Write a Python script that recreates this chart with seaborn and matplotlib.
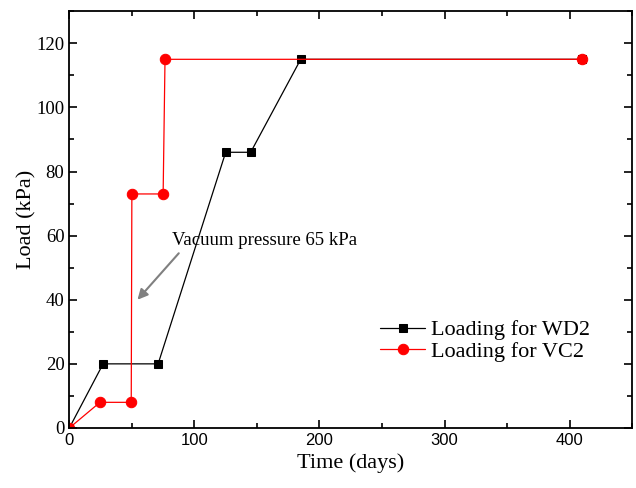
import numpy as np
import pandas as pd
import matplotlib
matplotlib.use('Agg')
import matplotlib.pyplot as plt
import seaborn as sb
from matplotlib.ticker import MultipleLocator
from matplotlib import font_manager

# Data
wd2_days = [0, 27, 71, 125, 145, 185, 410]
wd2_load = [0, 20, 20, 86, 86, 115, 115]
vc2_days = [0, 24.5, 49.5, 50, 75, 76.5, 410]
vc2_load = [0, 8, 8, 73, 73, 115, 115]
x_ticks = [0, 100, 200, 300, 400]
y_ticks = [0, 20, 40, 60, 80, 100, 120]

sb.set_style('ticks')
plt.rcParams['font.family'] = ['Liberation Serif', 'DejaVu Serif']
for k in ['text.color', 'axes.labelcolor', 'xtick.color', 'ytick.color', 'axes.edgecolor']:
    plt.rcParams[k] = 'black'

fig = plt.figure(figsize=(6.36, 4.88), dpi=100)
ax = fig.add_axes([0.109, 0.123, 0.885, 0.854])

sb.lineplot(x=wd2_days, y=wd2_load, ax=ax, sort=False, estimator=None,
            color='black', lw=0.9, marker='s', markersize=6.2,
            markeredgecolor='black', label='Loading for WD2')
sb.lineplot(x=vc2_days, y=vc2_load, ax=ax, sort=False, estimator=None,
            color='red', lw=0.9, marker='o', markersize=7.5,
            markeredgecolor='red', label='Loading for VC2')

ax.set_xlim(0, 450)
ax.set_ylim(0, 130)
ax.set_xticks(x_ticks)
ax.set_yticks(y_ticks)
ax.xaxis.set_minor_locator(MultipleLocator(50))
ax.yaxis.set_minor_locator(MultipleLocator(10))
ax.tick_params(which='both', direction='in', top=True, right=True, width=1.2)
ax.tick_params(which='major', length=6)
ax.tick_params(which='minor', length=3.5)
ax.tick_params(axis='y', labelsize=13.5)
ax.set_xticklabels([str(t) for t in x_ticks], fontsize=12,
                   family=['Liberation Sans', 'DejaVu Sans'])
for s in ax.spines.values():
    s.set_linewidth(1.3)

ax.set_xlabel('Time (days)', fontsize=16)
ax.set_ylabel('Load (kPa)', fontsize=16, labelpad=0)

ax.text(82, 58.5, 'Vacuum pressure 65 kPa', fontsize=13.5, va='center', ha='left')
ax.annotate('', xy=(54.5, 40), xytext=(87.5, 54.5),
            arrowprops=dict(arrowstyle='-|>', color='gray', lw=1.5,
                            mutation_scale=15, shrinkA=0, shrinkB=0))

ax.legend(loc='center left', bbox_to_anchor=(0.5525, 0.2086), frameon=False,
          fontsize=16, handlelength=2.0, borderpad=0, borderaxespad=0,
          labelspacing=0.05, handletextpad=0.3)

fig.savefig('out.png', dpi=100)

# quick check that the x tick labels really use the sans font
lab = ax.get_xticklabels()[1]
found = font_manager.findfont(lab.get_fontproperties())
if 'LiberationSans' not in found.replace(' ', ''):
    raise RuntimeError(f'x tick font resolved to {found}, family={lab.get_family()}')
